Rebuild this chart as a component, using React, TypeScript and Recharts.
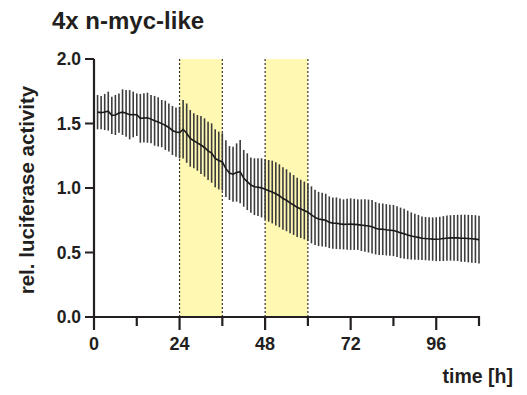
import React from "react"
import {
  ComposedChart,
  Line,
  ErrorBar,
  XAxis,
  YAxis,
  ReferenceArea,
  ReferenceLine,
  Label,
} from "recharts"

// ============ Data ============
const hours = Array.from({ length: 108 }, (_, i) => i + 1)

const meanValues = [
  1.588, 1.584, 1.589, 1.596, 1.563, 1.566, 1.581, 1.588, 1.579, 1.568,
  1.57, 1.568, 1.54, 1.543, 1.545, 1.534, 1.521, 1.512, 1.499, 1.486,
  1.469, 1.446, 1.434, 1.43, 1.455, 1.425, 1.385, 1.366, 1.35, 1.333,
  1.314, 1.288, 1.271, 1.23, 1.213, 1.202, 1.15, 1.116, 1.107, 1.12,
  1.127, 1.075, 1.049, 1.023, 1.01, 1.006, 1.001, 0.99, 0.978, 0.969,
  0.955, 0.94, 0.918, 0.905, 0.885, 0.868, 0.85, 0.838, 0.826, 0.812,
  0.792, 0.772, 0.76, 0.755, 0.75, 0.735, 0.728, 0.727, 0.722, 0.718,
  0.719, 0.72, 0.718, 0.716, 0.712, 0.709, 0.705, 0.7, 0.688, 0.681,
  0.68, 0.676, 0.673, 0.67, 0.662, 0.652, 0.645, 0.636, 0.628, 0.622,
  0.617, 0.611, 0.608, 0.606, 0.604, 0.603, 0.605, 0.608, 0.611, 0.613,
  0.614, 0.613, 0.611, 0.61, 0.608, 0.606, 0.604, 0.6,
]

const errValues = [
  0.133, 0.129, 0.14, 0.151, 0.145, 0.155, 0.152, 0.177, 0.181, 0.191,
  0.177, 0.165, 0.189, 0.191, 0.194, 0.187, 0.193, 0.191, 0.183, 0.191,
  0.187, 0.19, 0.191, 0.2, 0.227, 0.23, 0.22, 0.213, 0.216, 0.225,
  0.226, 0.226, 0.23, 0.225, 0.224, 0.222, 0.22, 0.209, 0.213, 0.226,
  0.245, 0.22, 0.22, 0.214, 0.22, 0.224, 0.229, 0.233, 0.239, 0.243,
  0.245, 0.244, 0.242, 0.24, 0.236, 0.232, 0.229, 0.226, 0.224, 0.223,
  0.221, 0.214, 0.21, 0.208, 0.206, 0.2, 0.198, 0.2, 0.197, 0.194,
  0.197, 0.2, 0.198, 0.196, 0.2, 0.203, 0.205, 0.207, 0.203, 0.2,
  0.2, 0.199, 0.198, 0.198, 0.197, 0.196, 0.194, 0.188, 0.183, 0.179,
  0.174, 0.169, 0.168, 0.168, 0.168, 0.17, 0.172, 0.174, 0.175, 0.176,
  0.177, 0.179, 0.182, 0.183, 0.184, 0.185, 0.185, 0.185,
]

const xTicks = [0, 12, 24, 36, 48, 60, 72, 84, 96, 108]
const yTicks = [0, 0.5, 1, 1.5, 2]
const shadedPeriods = [
  [24, 36],
  [48, 60],
]

const data = hours.map((h, i) => ({
  time: h,
  mean: meanValues[i],
  err: errValues[i],
}))

const FONT = "'Liberation Sans', Arial, Helvetica, sans-serif"
const AXIS = "#231f20"

// ============ Custom ticks ============
const XTick = ({ x, y, payload }: any) => {
  const major = payload.value % 24 === 0
  return (
    <g>
      <line
        x1={x}
        x2={x}
        y1={y - 1}
        y2={y + (major ? 13 : 9)}
        stroke={AXIS}
        strokeWidth={2.2}
      />
      {major && (
        <text
          x={x}
          y={y + 33}
          textAnchor="middle"
          fontFamily={FONT}
          fontWeight="bold"
          fontSize={18}
          fill={AXIS}
        >
          {payload.value}
        </text>
      )}
    </g>
  )
}

export default function App() {
  return (
    <div
      style={{
        position: "absolute",
        left: 0,
        top: 0,
        width: 527,
        height: 395,
        background: "#fff",
      }}
    >
      <div
        style={{
          position: "absolute",
          left: 52,
          top: 7,
          fontFamily: FONT,
          fontWeight: "bold",
          fontSize: 24,
          color: AXIS,
          whiteSpace: "nowrap",
        }}
      >
        4x n-myc-like
      </div>
      <ComposedChart
        width={527}
        height={395}
        data={data}
        margin={{ top: 59, right: 48, bottom: 38, left: 0 }}
      >
        {shadedPeriods.map(([a, b]) => (
          <ReferenceArea
            key={a}
            x1={a}
            x2={b}
            y1={0}
            y2={2}
            fill="#fff8b3"
            fillOpacity={1}
            stroke="none"
          />
        ))}
        {shadedPeriods.flat().map((v) => (
          <ReferenceLine
            key={v}
            x={v}
            stroke="#333"
            strokeWidth={1.2}
            strokeDasharray="2 2"
          />
        ))}
        <XAxis
          dataKey="time"
          type="number"
          domain={[0, 108]}
          ticks={xTicks}
          interval={0}
          height={40}
          tickSize={0}
          tickMargin={0}
          tickLine={false}
          axisLine={{ stroke: AXIS, strokeWidth: 2.2 }}
          tick={<XTick />}
        >
          <Label
            content={() => (
              <text
                x={513}
                y={383}
                textAnchor="end"
                fontFamily={FONT}
                fontWeight="bold"
                fontSize={19.5}
                fill={AXIS}
              >
                time [h]
              </text>
            )}
          />
        </XAxis>
        <YAxis
          type="number"
          domain={[0, 2]}
          ticks={yTicks}
          width={94}
          tickSize={9}
          tickMargin={4}
          tickFormatter={(v: number) => v.toFixed(1)}
          tick={{
            fontFamily: FONT,
            fontWeight: "bold",
            fontSize: 17.5,
            fill: AXIS,
          }}
          tickLine={{ stroke: AXIS, strokeWidth: 2 }}
          axisLine={{ stroke: AXIS, strokeWidth: 2.2 }}
        >
          <Label
            content={() => (
              <text
                x={34}
                y={190}
                textAnchor="middle"
                transform="rotate(-90 34 190)"
                fontFamily={FONT}
                fontWeight="bold"
                fontSize={20.5}
                fill={AXIS}
              >
                rel. luciferase activity
              </text>
            )}
          />
        </YAxis>
        <Line
          dataKey="mean"
          type="linear"
          stroke="#1a1a1a"
          strokeWidth={1.6}
          dot={false}
          isAnimationActive={false}
        >
          <ErrorBar
            dataKey="err"
            direction="y"
            width={0}
            stroke="#3c3c3c"
            strokeWidth={1.6}
          />
        </Line>
      </ComposedChart>
    </div>
  )
}
